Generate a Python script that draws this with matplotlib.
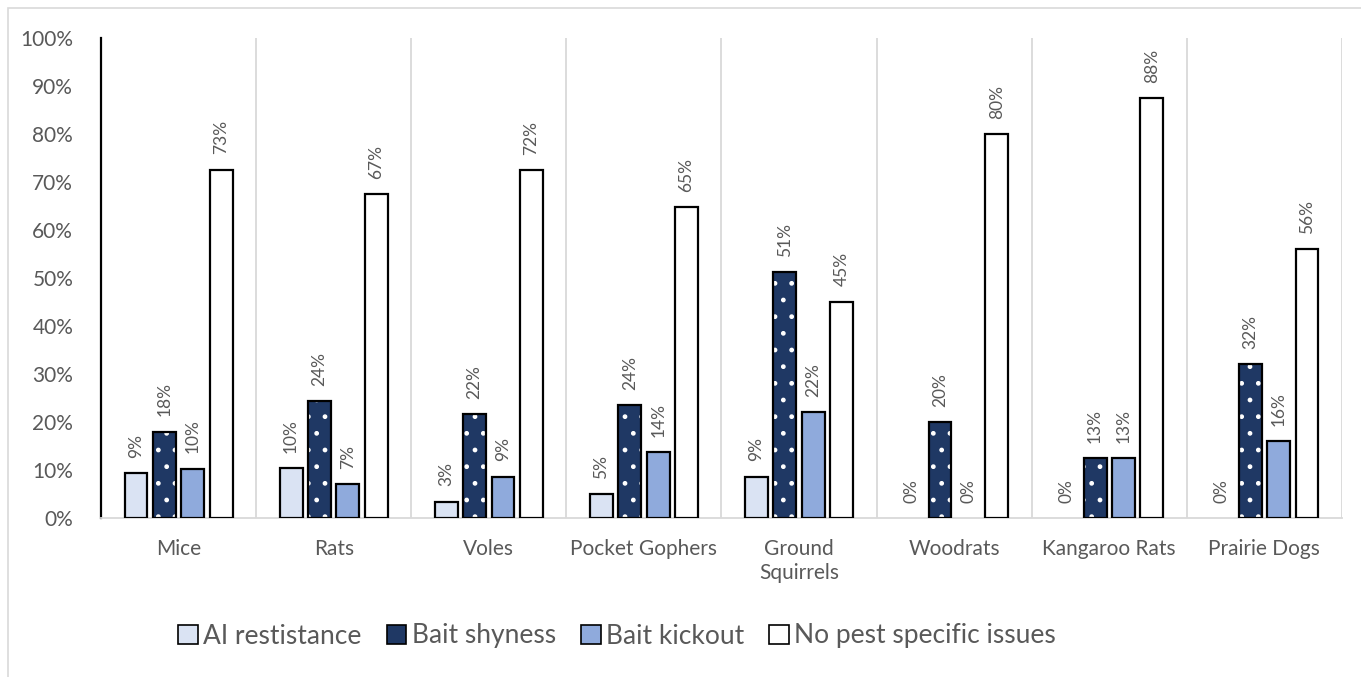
import matplotlib.pyplot as plt
import numpy as np
from matplotlib.patches import Rectangle
from matplotlib.ticker import PercentFormatter

plt.rcParams['font.family'] = ['Lato', 'DejaVu Sans']

# survey results, percent of respondents per rodent group
categories = ['Mice', 'Rats', 'Voles', 'Pocket Gophers', 'Ground\nSquirrels',
              'Woodrats', 'Kangaroo Rats', 'Prairie Dogs']
ai_resistance = [9.4, 10.4, 3.4, 4.9, 8.6, 0, 0, 0]
bait_shyness = [18.0, 24.4, 21.6, 23.5, 51.2, 20.0, 12.5, 32.0]
bait_kickout = [10.3, 7.0, 8.6, 13.7, 22.0, 0, 12.5, 16.0]
no_issues = [72.6, 67.4, 72.4, 64.7, 45.1, 80.0, 87.5, 56.0]
series_names = ['AI restistance', 'Bait shyness', 'Bait kickout', 'No pest specific issues']

grey = '#595959'
colors = ['#DAE3F3', '#1F3864', '#8FAADC', '#FFFFFF']
series = [ai_resistance, bait_shyness, bait_kickout, no_issues]

fig = plt.figure(figsize=(13.61, 6.77), dpi=100)
ax = fig.add_axes([101 / 1361, 1 - 518 / 677, (1342 - 101) / 1361, 480 / 677])

# chart area border
fig.patches.append(Rectangle((8 / 1361, -0.1), 1.2, 1 - 8 / 677 + 0.1, transform=fig.transFigure,
                             fill=False, edgecolor='#D9D9D9', linewidth=1.2, zorder=0))

x = np.arange(len(categories))
pitch = 0.183
width = 0.148
handles = []
for i, (vals, col) in enumerate(zip(series, colors)):
    pos = x + (i - 1.5) * pitch
    lw = [1.6 if v > 0 else 0 for v in vals]
    if i == 1:
        # white dot pattern drawn first, black outline on top
        ax.bar(pos, vals, width, color=col, edgecolor='white', hatch='.', linewidth=0, zorder=2)
        ax.bar(pos, vals, width, fill=False, edgecolor='black', linewidth=lw, zorder=3)
    else:
        ax.bar(pos, vals, width, color=col, edgecolor='black', linewidth=lw, zorder=3)
    handles.append(Rectangle((0, 0), 1, 1, facecolor=col, edgecolor='black', linewidth=1.2))
    for p, v in zip(pos, vals):
        ax.annotate('%d%%' % int(v + 0.5), (p, v), xytext=(0, 11), textcoords='offset points',
                    rotation=90, ha='center', va='bottom', fontsize=12.5, color=grey)

# separators between categories
for b in np.arange(len(categories) + 1) - 0.5:
    ax.axvline(b, color='#D9D9D9', linewidth=1.3, zorder=1)

ax.set_xlim(-0.5, len(categories) - 0.5)
ax.set_ylim(0, 100)
ax.set_yticks(np.arange(0, 101, 10))
ax.yaxis.set_major_formatter(PercentFormatter(decimals=0))
ax.set_xticks(x)
ax.set_xticklabels(categories, linespacing=1.25)
ax.tick_params(axis='both', length=0, labelsize=15, labelcolor=grey)
ax.tick_params(axis='y', pad=20)
ax.tick_params(axis='x', pad=15)

for s in ['top', 'right']:
    ax.spines[s].set_visible(False)
ax.spines['left'].set_color('black')
ax.spines['left'].set_linewidth(1.6)
ax.spines['bottom'].set_color('#D9D9D9')
ax.spines['bottom'].set_linewidth(1.3)

fig.legend(handles, series_names, loc='center', bbox_to_anchor=(617 / 1361, 1 - 636 / 677),
           ncol=4, frameon=False, fontsize=19, labelcolor=grey, handlelength=0.75,
           handleheight=0.75, handletextpad=0.2, columnspacing=0.95)

fig.savefig('out.png', dpi=100)
